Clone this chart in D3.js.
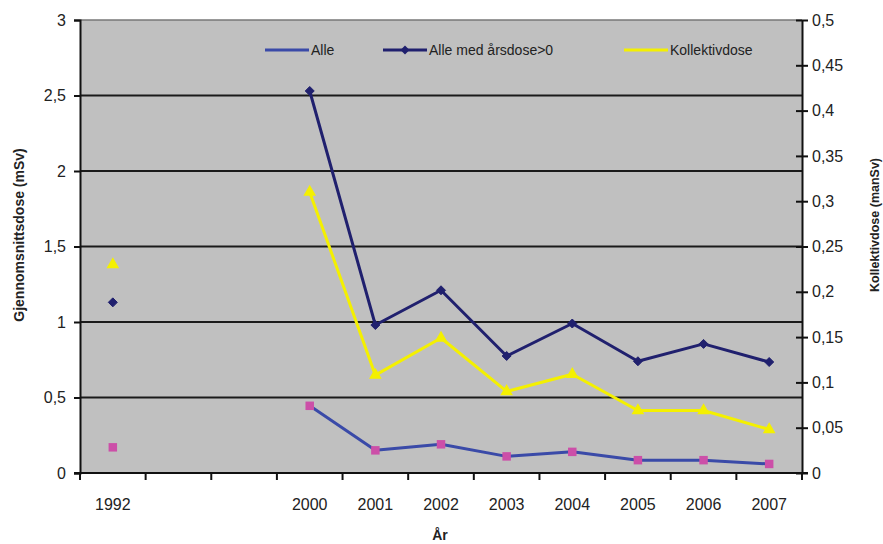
<!DOCTYPE html>
<html><head><meta charset="utf-8">
<script src="https://cdn.jsdelivr.net/npm/d3@7"></script>
<style>html,body{margin:0;padding:0;background:#fff;}svg{display:block;font-family:"Liberation Sans",Arial,sans-serif;}</style>
</head><body>
<svg id="c" width="883" height="544"></svg>
<script>
const categories = ["1992", "", "", "2000", "2001", "2002", "2003", "2004", "2005", "2006", "2007"];
const alle = [0.17, null, null, 0.445, 0.15, 0.19, 0.11, 0.14, 0.085, 0.085, 0.06];
const alleMed = [1.13, null, null, 2.53, 0.98, 1.21, 0.775, 0.99, 0.74, 0.855, 0.735];
const kollektiv = [0.23, null, null, 0.31, 0.108, 0.149, 0.09, 0.109, 0.069, 0.069, 0.048];
const leftTicks = [0, 0.5, 1, 1.5, 2, 2.5, 3];
const rightTicks = [0, 0.05, 0.1, 0.15, 0.2, 0.25, 0.3, 0.35, 0.4, 0.45, 0.5];
const seriesNames = ["Alle", "Alle med årsdose>0", "Kollektivdose"];

const svg = d3.select("#c");
const L = 80, R = 802, T = 20, B = 473;
const x = d3.scaleBand().domain(d3.range(categories.length)).range([L, R]);
const yL = d3.scaleLinear().domain([0, 3]).range([B, T]);
const yR = d3.scaleLinear().domain([0, 0.5]).range([B, T]);
const fmt = v => String(v).replace(".", ",");

svg.append("rect").attr("x", L).attr("y", T).attr("width", R - L).attr("height", B - T).attr("fill", "#c0c0c0");

// gridlines
svg.append("g").selectAll("line").data(leftTicks.filter(d => d > 0)).join("line")
  .attr("x1", L).attr("x2", R).attr("y1", d => yL(d)).attr("y2", d => yL(d))
  .attr("stroke", d => d === 3 ? "#777" : "#1a1a1a").attr("stroke-width", d => d === 3 ? 1.5 : 2);

// left axis
const gl = svg.append("g").attr("transform", `translate(${L},0)`)
  .call(d3.axisLeft(yL).tickValues(leftTicks).tickFormat(fmt).tickSize(6).tickPadding(8));
gl.select(".domain").attr("stroke", "#111").attr("stroke-width", 2);
gl.selectAll(".tick line").attr("stroke", "#111").attr("stroke-width", 2);
gl.selectAll(".tick text").attr("font-size", 16).attr("fill", "#222").attr("font-family", "Liberation Sans, Arial, sans-serif");

// right axis
const gr = svg.append("g").attr("transform", `translate(${R},0)`)
  .call(d3.axisRight(yR).tickValues(rightTicks).tickFormat(fmt).tickSizeInner(6).tickSizeOuter(0).tickPadding(4));
gr.select(".domain").attr("stroke", "#111").attr("stroke-width", 2);
gr.selectAll(".tick line").attr("stroke", "#111").attr("stroke-width", 2).attr("x1", -6).attr("x2", 6);
gr.selectAll(".tick text").attr("font-size", 16).attr("fill", "#222").attr("font-family", "Liberation Sans, Arial, sans-serif");

// bottom axis
const xt = svg.append("g").attr("transform", `translate(0,${B})`);
xt.append("line").attr("x1", L - 6).attr("x2", R + 6).attr("stroke", "#111").attr("stroke-width", 2);
xt.selectAll("line.t").data(d3.range(categories.length + 1)).join("line").attr("class", "t")
  .attr("x1", i => L + i * x.step()).attr("x2", i => L + i * x.step()).attr("y1", 0).attr("y2", 7)
  .attr("stroke", "#111").attr("stroke-width", 2);
xt.selectAll("text").data(categories).join("text")
  .attr("x", (d, i) => x(i) + x.bandwidth() / 2).attr("y", 37).attr("text-anchor", "middle")
  .attr("font-size", 16).attr("fill", "#222").text(d => d);

// lines
function drawLine(vals, yS, color, w) {
  const pts = vals.map((v, i) => [i, v]);
  svg.append("path").datum(pts)
    .attr("d", d3.line().defined(d => d[1] != null).x(d => x(d[0]) + x.bandwidth() / 2).y(d => yS(d[1])))
    .attr("fill", "none").attr("stroke", color).attr("stroke-width", w).attr("stroke-linejoin", "round");
  return pts.filter(d => d[1] != null);
}
const pk = drawLine(kollektiv, yR, "#f4f000", 3);
const pm = drawLine(alleMed, yL, "#20206e", 3);
const pa = drawLine(alle, yL, "#3a4aa8", 3);

const sq = d3.symbol().type(d3.symbolSquare).size(72);
const dia = "M0,-4.5L4.5,0L0,4.5L-4.5,0Z";
const tri = d3.symbol().type(d3.symbolTriangle).size(70);
svg.append("g").selectAll("path").data(pk).join("path")
  .attr("transform", d => `translate(${x(d[0]) + x.bandwidth() / 2},${yR(d[1])})`).attr("d", tri).attr("fill", "#f4f000");
svg.append("g").selectAll("path").data(pm).join("path")
  .attr("transform", d => `translate(${x(d[0]) + x.bandwidth() / 2},${yL(d[1])})`).attr("d", dia).attr("fill", "#20206e")
  .attr("stroke", "#20206e").attr("stroke-width", 1).attr("stroke-linejoin", "round");
svg.append("g").selectAll("path").data(pa).join("path")
  .attr("transform", d => `translate(${x(d[0]) + x.bandwidth() / 2},${yL(d[1])})`).attr("d", sq).attr("fill", "#cc4fa8");

// legend
const leg = [
  { x: 265, name: seriesNames[0], line: "#3a4aa8", mk: "#cc4fa8", sym: sq },
  { x: 383, name: seriesNames[1], line: "#20206e", mk: "#20206e", sym: dia },
  { x: 624, name: seriesNames[2], line: "#f4f000", mk: "#f4f000", sym: tri }
];
const lg = svg.append("g").selectAll("g").data(leg).join("g").attr("transform", d => `translate(${d.x},50)`);
lg.append("line").attr("x1", 0).attr("x2", 44).attr("stroke", d => d.line).attr("stroke-width", 3);
lg.append("path").attr("transform", "translate(22,0)").attr("d", d => d.sym).attr("fill", d => d.mk);
lg.append("text").attr("x", 46).attr("y", 5).attr("font-size", 14).attr("fill", "#222").text(d => d.name);

// titles
svg.append("text").attr("transform", "translate(24,235) rotate(-90)").attr("text-anchor", "middle")
  .attr("font-size", 14).attr("font-weight", "bold").attr("fill", "#222").text("Gjennomsnittsdose (mSv)");
svg.append("text").attr("transform", "translate(879,225) rotate(-90)").attr("text-anchor", "middle")
  .attr("font-size", 12.5).attr("font-weight", "bold").attr("fill", "#222").text("Kollektivdose (manSv)");
svg.append("text").attr("x", 440).attr("y", 540).attr("text-anchor", "middle")
  .attr("font-size", 14).attr("font-weight", "bold").attr("fill", "#222").text("År");
</script>
</body></html>
